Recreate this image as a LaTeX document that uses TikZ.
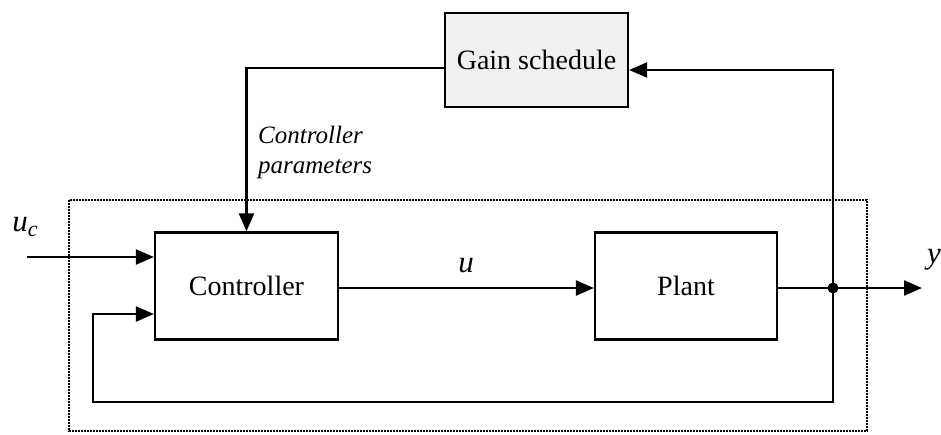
\documentclass[tikz,border=0pt]{standalone}
\usepackage{fontspec}
\setmainfont{Liberation Serif}
\usetikzlibrary{arrows.meta,positioning}

\tikzset{
  block/.style={draw, line width=2.2pt, rectangle, inner sep=0pt,
    font=\fontsize{28}{32}\selectfont},
  arr/.style={line width=2.2pt, -{Triangle[length=18pt,width=15pt]}},
  wire/.style={line width=2.2pt},
  dotbox/.style={line width=1.8pt, dash pattern=on 1.6pt off 1.4pt},
  lbl/.style={font=\fontsize{31}{34}\selectfont\itshape, inner sep=0pt},
  note/.style={font=\fontsize{25}{30}\selectfont\itshape, inner sep=0pt,
    align=left, anchor=north west},
}

\begin{document}
\begin{tikzpicture}[x=1pt, y=-1pt]
  \useasboundingbox (0,0) rectangle (941,434);

  % dotted frame around the inner loop
  \draw[dotbox] (69,200) rectangle (867,431);

  % blocks
  \node[block, minimum width=183pt, minimum height=94pt, fill=gray!12]
    (gain) at (536.5,60) {Gain schedule};
  \node[block, minimum width=183pt, minimum height=107pt]
    (ctrl) at (246.5,286) {Controller};
  \node[block, minimum width=182pt, minimum height=107pt]
    (plant) at (686,286) {Plant};

  % helper points
  \coordinate (ucin) at (27,257);
  \coordinate (tap) at (833,288);
  \coordinate (yout) at (922,288);
  \coordinate (fbl) at (93,402);

  % reference input
  \draw[arr] (ucin) -- (ucin -| ctrl.west);
  \node[lbl] (uclbl) at (25,227) {u\raisebox{-0.35ex}{\fontsize{22}{24}\selectfont c}};

  % control signal
  \draw[arr] (ctrl.east |- tap) -- (plant.west |- tap);
  \node[lbl] (ulbl) at (466,266) {u};

  % plant output
  \draw[wire] (plant.east |- tap) -- (tap);
  \draw[arr] (tap) -- (yout);
  \fill (tap) circle (5.5pt);
  \node[lbl] (ylbl) at (934,260) {y};

  % measurement to the gain schedule
  \draw[arr] (tap) |- ([yshift=-10pt]gain.east);

  % controller parameters from the gain schedule
  \draw[arr] ([yshift=-8pt]gain.west) -| (ctrl.north);
  \node[note] (params) at (258,126) {Controller\\parameters};

  % feedback loop
  \draw[arr] (tap) |- (fbl) |- ([yshift=-28pt]ctrl.west);
\end{tikzpicture}
\end{document}
